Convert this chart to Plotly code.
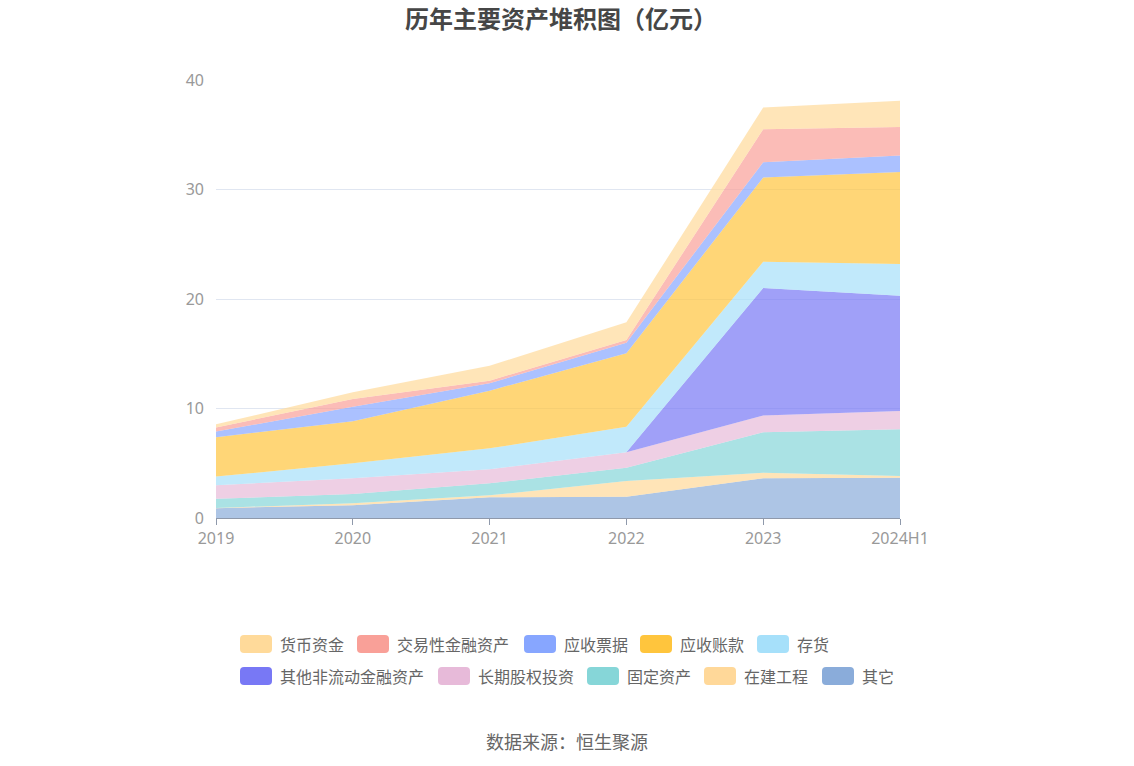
import plotly.graph_objects as go

# categories on the x axis
years = ["2019", "2020", "2021", "2022", "2023", "2024H1"]

# series values (亿元)
other = [0.90, 1.16, 1.89, 1.95, 3.62, 3.68]          # 其它
construction = [0.02, 0.18, 0.18, 1.43, 0.52, 0.16]   # 在建工程
fixed_assets = [0.83, 0.85, 1.10, 1.22, 3.69, 4.26]   # 固定资产
lt_equity = [1.24, 1.43, 1.28, 1.40, 1.52, 1.67]      # 长期股权投资
other_ncfa = [0, 0, 0, 0, 11.65, 10.53]               # 其他非流动金融资产
inventory = [0.79, 1.38, 1.91, 2.34, 2.40, 2.90]      # 存货
receivables = [3.60, 3.83, 5.27, 6.70, 7.70, 8.40]    # 应收账款
notes_rec = [0.51, 1.34, 0.67, 0.96, 1.40, 1.50]      # 应收票据
trading_fa = [0.37, 0.70, 0.24, 0.26, 3.00, 2.60]     # 交易性金融资产
cash = [0.30, 0.61, 1.36, 1.61, 2.00, 2.40]           # 货币资金

# legend order (as shown in the reference) and colours
names = ["货币资金", "交易性金融资产", "应收票据", "应收账款", "存货",
         "其他非流动金融资产", "长期股权投资", "固定资产", "在建工程", "其它"]
values = [cash, trading_fa, notes_rec, receivables, inventory,
          other_ncfa, lt_equity, fixed_assets, construction, other]
colors = ["#FFDA9A", "#F9A098", "#87A6FF", "#FFC53D", "#A6E0FA",
          "#7878F5", "#E7BAD9", "#86D6D8", "#FFD899", "#8AACDA"]


def rgba(hex_color, alpha):
    h = hex_color.lstrip("#")
    r, g, b = int(h[0:2], 16), int(h[2:4], 16), int(h[4:6], 16)
    return f"rgba({r},{g},{b},{alpha})"


W, H = 1134, 766
# plot area, in pixels
L, R, T, B = 216, 900, 80, 518

fig = go.Figure()

# stack from the bottom (其它) up to the top (货币资金)
for name, vals, col in reversed(list(zip(names, values, colors))):
    fig.add_trace(
        go.Scatter(
            x=years,
            y=vals,
            name=name,
            stackgroup="assets",
            mode="lines",
            line=dict(width=0, color=col),
            fillcolor=rgba(col, 0.7),
            showlegend=False,
            hovertemplate="%{x}<br>" + name + ": %{y:.2f}亿元<extra></extra>",
        )
    )


def px_x(px):
    return (px - L) / (R - L)


def px_y(py):
    return (B - py) / (B - T)


# legend drawn by hand: two rows, like the reference
legend_x = [240, 357, 524, 640, 757, 240, 438, 587, 704, 822]
legend_y = [644] * 5 + [676] * 5
swatch = "M-16,-5 Q-16,-9 -12,-9 L12,-9 Q16,-9 16,-5 L16,5 Q16,9 12,9 L-12,9 Q-16,9 -16,5 Z"
for name, col, lx, ly in zip(names, colors, legend_x, legend_y):
    fig.add_shape(
        type="path",
        xref="paper", yref="paper",
        xsizemode="pixel", ysizemode="pixel",
        xanchor=px_x(lx + 16), yanchor=px_y(ly),
        path=swatch,
        fillcolor=col,
        line=dict(width=0),
    )
    fig.add_annotation(
        x=px_x(lx + 38), y=px_y(ly),
        xref="paper", yref="paper",
        text=name, showarrow=False,
        xanchor="left", yanchor="middle",
        font=dict(size=16, color="#666666"),
    )

fig.add_annotation(
    x=px_x(567), y=px_y(741), xref="paper", yref="paper",
    text="数据来源：恒生聚源", showarrow=False,
    xanchor="center", yanchor="middle",
    font=dict(size=18, color="#666666"),
)

fig.add_annotation(
    x=px_x(561), y=px_y(17), xref="paper", yref="paper",
    text="<b>历年主要资产堆积图（亿元）</b>", showarrow=False,
    xanchor="center", yanchor="middle",
    font=dict(size=24, color="#464646"),
)

fig.update_layout(
    width=W,
    height=H,
    margin=dict(l=L, r=W - R, t=T, b=H - B),
    paper_bgcolor="white",
    plot_bgcolor="white",
    font=dict(family="Noto Sans CJK SC, Noto Sans, sans-serif", color="#999999"),
    showlegend=False,
    xaxis=dict(
        type="category",
        range=[0, len(years) - 1],
        showgrid=False,
        showline=True,
        linecolor="#8F99AB",
        linewidth=1,
        ticks="outside",
        ticklen=6,
        tickcolor="#8F99AB",
        tickfont=dict(size=16, family="Noto Sans, sans-serif", color="#999999"),
        fixedrange=True,
    ),
    yaxis=dict(
        range=[0, 40],
        tickvals=[0, 10, 20, 30, 40],
        showgrid=True,
        gridcolor="#E0E6F1",
        zeroline=False,
        showline=False,
        ticks="",
        ticklabelstandoff=11,
        tickfont=dict(size=16, family="Noto Sans, sans-serif", color="#999999"),
        fixedrange=True,
    ),
)

# drop the browser's default body margin so the figure sits at the window corner
fig.write_html(
    "out.html",
    config={"displayModeBar": False},
    post_script="document.body.style.margin = '0';",
)
